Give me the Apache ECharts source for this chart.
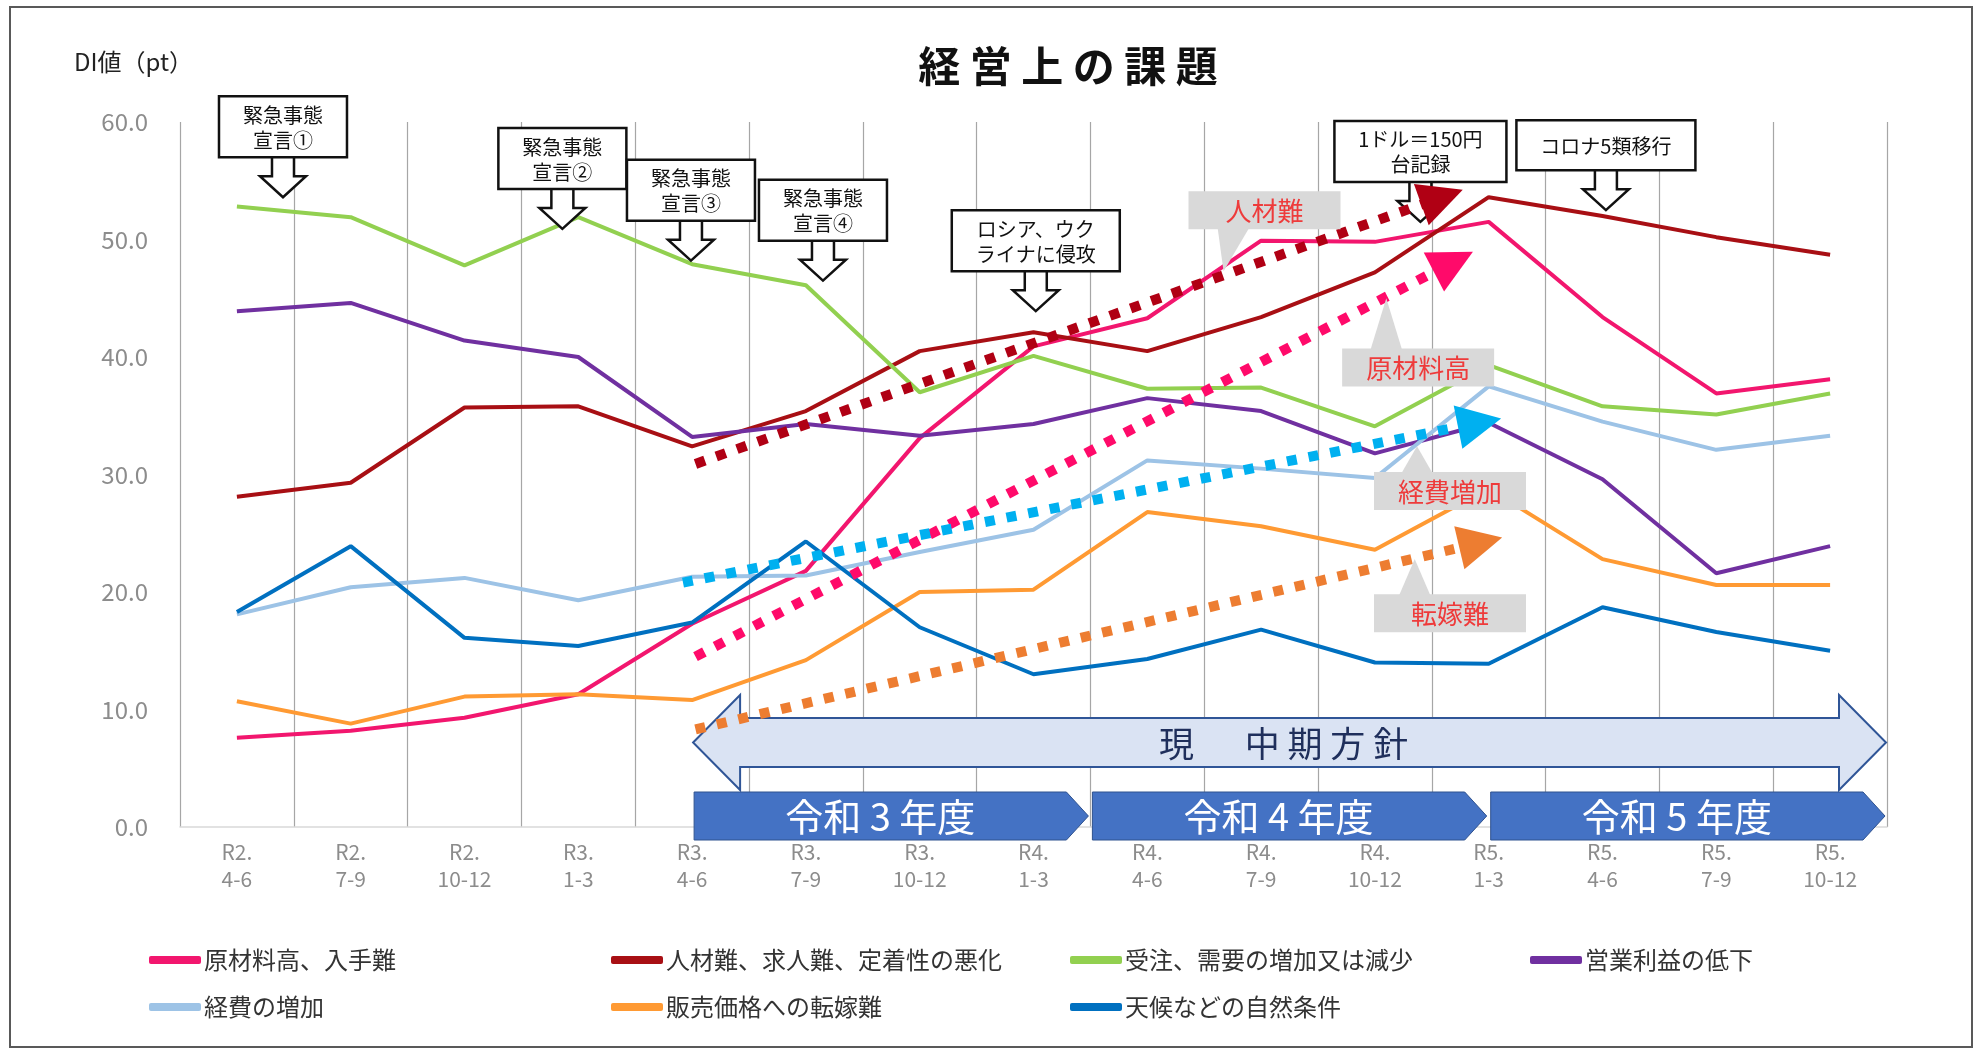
<!DOCTYPE html>
<html><head><meta charset="utf-8">
<script src="https://cdn.jsdelivr.net/npm/echarts@6/dist/echarts.min.js"></script>
<style>html,body{margin:0;padding:0;background:#fff}#c{width:1975px;height:1051px}</style>
</head><body><div id="c"></div>
<script>
// ---------------- data ----------------
const categories = ['R2.\n4-6','R2.\n7-9','R2.\n10-12','R3.\n1-3','R3.\n4-6','R3.\n7-9','R3.\n10-12','R4.\n1-3','R4.\n4-6','R4.\n7-9','R4.\n10-12','R5.\n1-3','R5.\n4-6','R5.\n7-9','R5.\n10-12'];
const yMin = 0, yMax = 60, yStep = 10;

const rawMaterial = [7.6, 8.2, 9.3, 11.3, 17.3, 21.8, 33.1, 40.9, 43.3, 49.9, 49.8, 51.5, 43.4, 36.9, 38.1];
const labour      = [28.1, 29.3, 35.7, 35.8, 32.4, 35.4, 40.5, 42.1, 40.5, 43.4, 47.2, 53.6, 52.0, 50.2, 48.7];
const orders      = [52.8, 51.9, 47.8, 51.9, 47.9, 46.1, 37.0, 40.1, 37.3, 37.4, 34.1, 39.3, 35.8, 35.1, 36.9];
const profit      = [43.9, 44.6, 41.4, 40.0, 33.2, 34.3, 33.3, 34.3, 36.5, 35.4, 31.8, 34.4, 29.6, 21.6, 23.9];
const expenses    = [18.1, 20.4, 21.2, 19.3, 21.3, 21.4, 23.4, 25.3, 31.2, 30.5, 29.7, 37.5, 34.5, 32.1, 33.3];
const passOn      = [10.7, 8.8, 11.1, 11.3, 10.8, 14.2, 20.0, 20.2, 26.8, 25.6, 23.6, 28.8, 22.8, 20.6, 20.6];
const weather     = [18.3, 23.9, 16.1, 15.4, 17.4, 24.3, 17.0, 13.0, 14.3, 16.8, 14.0, 13.9, 18.7, 16.6, 15.0];

const seriesNames = ['原材料高、入手難','人材難、求人難、定着性の悪化','受注、需要の増加又は減少','営業利益の低下','経費の増加','販売価格への転嫁難','天候などの自然条件'];
const seriesValues = [rawMaterial, labour, orders, profit, expenses, passOn, weather];

// annotation coordinates (x in category units on a 0..15 scale, y in DI pt)
const eventTips  = [[0.905,53.6],[3.36,50.9],[4.49,48.2],[5.65,46.5],[7.52,43.9],[10.90,51.5],[12.53,52.5]];
const eventTexts = ['緊急事態\n宣言①','緊急事態\n宣言②','緊急事態\n宣言③','緊急事態\n宣言④','ロシア、ウク\nライナに侵攻','1ドル＝150円\n台記録','コロナ5類移行'];

const trendStart = [[4.53,30.9],[4.53,14.5],[4.42,20.8],[4.53,8.3]];
const trendEnd   = [[11.09,53.6],[11.19,48.1],[11.42,34.4],[11.43,24.2]];

const tagTexts = ['人材難','原材料高','経費増加','転嫁難'];
const tagTips  = [[9.17,47.3],[10.60,45.0],[10.87,32.4],[10.85,22.8]];
const tagBoxes = [[9.53,52.5],[10.88,39.1],[11.16,28.6],[11.16,18.2]];

const policySpan = [[4.5, 15]];
const policyText = ['現　  中 期 方 針'];
const fiscalSpans = [[4.5, 8],[8, 11.5],[11.5, 15]];
const fiscalTexts = ['令和 3 年度','令和 4 年度','令和 5 年度'];

// ---------------- styles ----------------
const FONT = '"Noto Sans CJK JP","Noto Sans",sans-serif';
const seriesColors = ['#F2166E','#A80F14','#92D050','#7030A0','#9DC3E6','#FF9A33','#0070C0'];
const trendColors = ['#B00014','#FF0A6A','#00B0F0','#ED7D31'];
const legendPos = [[149,948],[611,948],[1070,948],[1530,948],[149,995],[611,995],[1070,995]];

const mctx = document.createElement('canvas').getContext('2d');
function textW(t, size){ mctx.font = size + 'px ' + FONT; return Math.max.apply(null, t.split('\n').map(l => mctx.measureText(l).width)); }

const chart = echarts.init(document.getElementById('c'));

const lineSeries = seriesNames.map((n, i) => ({
  name: n, type: 'line', data: seriesValues[i], symbol: 'none', smooth: false,
  lineStyle: { width: 4, color: seriesColors[i] }, itemStyle: { color: seriesColors[i] }, z: 2
}));

const trendSeries = trendStart.map((s, i) => ({
  type: 'line', xAxisIndex: 1, yAxisIndex: 0, data: [], z: 6, silent: true,
  markLine: {
    silent: true, animation: false, symbol: ['none', 'triangle'], symbolSize: 44,
    label: { show: false },
    lineStyle: { color: trendColors[i], width: 10, type: [10, 12], cap: 'butt' },
    itemStyle: { color: trendColors[i] },
    emphasis: { disabled: true },
    data: [[{ coord: s }, { coord: trendEnd[i] }]]
  }
}));

const calloutSeries = {
  type: 'custom', xAxisIndex: 1, yAxisIndex: 0, z: 4, silent: true, clip: false,
  data: eventTips,
  renderItem: function (params, api) {
    const tip = api.coord([api.value(0), api.value(1)]);
    const text = eventTexts[params.dataIndex];
    const nLines = text.split('\n').length;
    const w = Math.round(textW(text, 20)) + 48;
    const h = nLines > 1 ? 61 : 50;
    const cx = tip[0], ty = tip[1];
    const boxBottom = ty - 40, boxTop = boxBottom - h, headTop = ty - 21;
    return { type: 'group', children: [
      { type: 'polygon', shape: { points: [[cx-11,boxBottom-3],[cx+11,boxBottom-3],[cx+11,headTop],[cx+23,headTop],[cx,ty],[cx-23,headTop],[cx-11,headTop]] },
        style: { fill: '#fff', stroke: '#111', lineWidth: 2.5 } },
      { type: 'rect', shape: { x: cx - w/2, y: boxTop, width: w, height: h },
        style: { fill: '#fff', stroke: '#111', lineWidth: 2.5 } },
      { type: 'text', style: { x: cx, y: boxTop + h/2 + 1, text: text, align: 'center', verticalAlign: 'middle',
        fontSize: 20, fontFamily: FONT, lineHeight: 25, fill: '#111' } }
    ]};
  }
};

const tagSeries = {
  type: 'custom', xAxisIndex: 1, yAxisIndex: 0, z: 5, silent: true, clip: false,
  data: tagTips.map((t, i) => [t[0], t[1], tagBoxes[i][0], tagBoxes[i][1]]),
  renderItem: function (params, api) {
    const tip = api.coord([api.value(0), api.value(1)]);
    const c = api.coord([api.value(2), api.value(3)]);
    const w = 152, h = 38;
    const top = c[1] - h/2, bot = c[1] + h/2;
    const edge = tip[1] < top ? top + 2 : bot - 2;
    const bx = tip[0] + (tip[1] < top ? 0 : 10);
    return { type: 'group', children: [
      { type: 'polygon', shape: { points: [[bx-16, edge],[bx+16, edge],[tip[0], tip[1]]] }, style: { fill: '#D9D9D9' } },
      { type: 'rect', shape: { x: c[0]-w/2, y: top, width: w, height: h }, style: { fill: '#D9D9D9' } },
      { type: 'text', style: { x: c[0], y: c[1]+1, text: tagTexts[params.dataIndex], align: 'center', verticalAlign: 'middle',
        fontSize: 26, fontFamily: FONT, fill: '#EE3B3B' } }
    ]};
  }
};

const policySeries = {
  type: 'custom', xAxisIndex: 1, yAxisIndex: 0, z: 3, silent: true, clip: false,
  data: policySpan,
  renderItem: function (params, api) {
    const p0 = api.coord([api.value(0), 0]), p1 = api.coord([api.value(1), 0]);
    const base = p0[1];
    const x0 = p0[0] + 1, x1 = p1[0] - 1, hl = 47;
    const bt = base - 109, bb = base - 60, ht = base - 132, hb = base - 37, mid = base - 84.5;
    return { type: 'group', children: [
      { type: 'polygon', shape: { points: [[x0,mid],[x0+hl,ht],[x0+hl,bt],[x1-hl,bt],[x1-hl,ht],[x1,mid],[x1-hl,hb],[x1-hl,bb],[x0+hl,bb],[x0+hl,hb]] },
        style: { fill: '#DAE3F3', stroke: '#2F5597', lineWidth: 2 } },
      { type: 'text', style: { x: (x0+x1)/2 - 6, y: mid + 1, text: policyText[params.dataIndex], align: 'center', verticalAlign: 'middle',
        fontSize: 35, fontFamily: FONT, fill: '#1F2F5C' } }
    ]};
  }
};

const fiscalSeries = {
  type: 'custom', xAxisIndex: 1, yAxisIndex: 0, z: 3, silent: true, clip: false,
  data: fiscalSpans,
  renderItem: function (params, api) {
    const p0 = api.coord([api.value(0), 0]), p1 = api.coord([api.value(1), 0]);
    const base = p0[1];
    const x0 = p0[0] + 2, x1 = p1[0] - 2, d = 22;
    const top = base - 35, bot = base + 13, mid = (top + bot) / 2;
    return { type: 'group', children: [
      { type: 'polygon', shape: { points: [[x0,top],[x1-d,top],[x1,mid],[x1-d,bot],[x0,bot]] },
        style: { fill: '#4472C4', stroke: '#2F528F', lineWidth: 1 } },
      { type: 'text', style: { x: (x0 + x1 - d) / 2, y: mid + 1, text: fiscalTexts[params.dataIndex], align: 'center', verticalAlign: 'middle',
        fontSize: 38, fontFamily: FONT, fill: '#fff' } }
    ]};
  }
};

const legends = seriesNames.map((n, i) => ({
  data: [n], left: legendPos[i][0], top: legendPos[i][1], padding: 0,
  icon: 'roundRect', itemWidth: 52, itemHeight: 8, itemGap: 0,
  textStyle: { fontSize: 24, fontFamily: FONT, color: '#333', padding: [0,0,0,-2] },
  selectedMode: false
}));

chart.setOption({
  animation: false,
  backgroundColor: '#fff',
  textStyle: { fontFamily: FONT },
  title: { text: '経 営 上 の 課 題', left: 1063, top: 40, textAlign: 'center',
    textStyle: { fontSize: 42, fontWeight: 'bold', fontFamily: FONT, color: '#111' } },
  graphic: [
    { type: 'rect', shape: { x: 10, y: 7, width: 1962, height: 1040 }, style: { fill: 'none', stroke: '#595959', lineWidth: 2 }, z: 100 },
    { type: 'text', left: 74, top: 50, style: { text: 'DI値（pt）', fontSize: 24, fontFamily: FONT, fill: '#222' } }
  ],
  legend: legends,
  grid: { left: 180, right: 88, top: 122, bottom: 224, containLabel: false, outerBoundsMode: 'none' },
  xAxis: [{
    type: 'category', data: categories, boundaryGap: true,
    axisLine: { show: true, lineStyle: { color: '#D9D9D9', width: 1.5 } },
    axisTick: { show: false },
    splitLine: { show: true, lineStyle: { color: '#A6A6A6', width: 1.2 } },
    axisLabel: { color: '#8C8C8C', fontSize: 21, lineHeight: 27, margin: 12, interval: 0, fontFamily: FONT }
  }, {
    type: 'value', min: 0, max: categories.length, show: false
  }],
  yAxis: [{
    type: 'value', min: yMin, max: yMax, interval: yStep,
    axisLine: { show: false }, axisTick: { show: false }, splitLine: { show: false },
    axisLabel: { color: '#8C8C8C', fontSize: 24, margin: 32, formatter: v => v.toFixed(1), fontFamily: FONT }
  }],
  series: lineSeries.concat([policySeries, fiscalSeries, calloutSeries, tagSeries]).concat(trendSeries)
});
</script>
</body></html>
